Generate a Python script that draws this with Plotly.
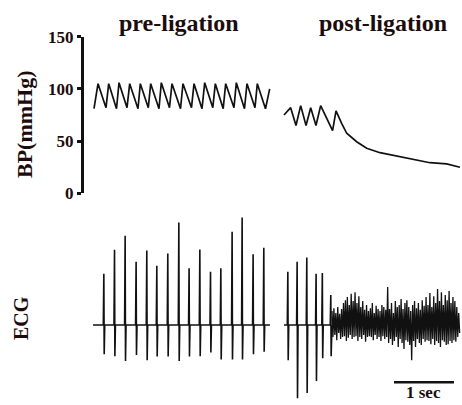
import plotly.graph_objects as go

# ---------------- Blood pressure (mmHg) vs time (s) ----------------
bp_pre_t = [0.000, 0.067, 0.200, 0.245, 0.375, 0.417, 0.550, 0.595, 0.733, 0.772,
            0.905, 0.945, 1.083, 1.122, 1.258, 1.300, 1.442, 1.483, 1.625, 1.667,
            1.800, 1.845, 1.980, 2.022, 2.153, 2.195, 2.333, 2.372, 2.508, 2.550,
            2.683, 2.722, 2.858, 2.928]
bp_pre = [81, 105, 82, 105, 81, 106, 82, 105, 81, 105,
          82, 105, 81, 106, 82, 105, 81, 105, 82, 105,
          81, 106, 82, 105, 81, 105, 82, 106, 81, 105,
          82, 105, 81, 100]

bp_post_t = [0.000, 0.111, 0.200, 0.278, 0.367, 0.445, 0.533, 0.611, 0.810, 0.867,
             0.961, 1.045, 1.211, 1.378, 1.600, 1.878, 2.155, 2.433, 2.711, 2.933]
bp_post = [75, 82, 65, 84, 65, 82, 65, 84, 60, 79,
           67, 57.5, 49.4, 43.1, 38.9, 35.7, 31.9, 29.3, 28.1, 24.9]

bp_ticks = [0, 50, 100, 150]

# ---------------- ECG (mV) ----------------
ecg_pre_span = [-0.017, 2.933]
ecg_pre_beat_t = [0.167, 0.345, 0.522, 0.705, 0.883, 1.050, 1.233, 1.417,
                  1.588, 1.767, 1.945, 2.117, 2.305, 2.472, 2.655, 2.833]
ecg_pre_r = [1.28, 1.88, 2.23, 1.58, 1.86, 1.48, 1.79, 2.56,
             1.42, 1.89, 1.33, 1.42, 2.33, 2.69, 1.77, 1.93]
ecg_pre_s = [-0.73, -0.78, -0.90, -0.75, -0.88, -0.79, -0.79, -0.90,
             -0.79, -0.78, -0.69, -0.86, -0.86, -0.86, -0.73, -0.67]

ecg_post_span = [0.000, 0.800]
ecg_post_beat_t = [0.067, 0.222, 0.383, 0.538, 0.642, 0.783]
ecg_post_r = [1.33, 1.58, 1.69, 1.28, 1.30, 0.75]
ecg_post_s = [-0.88, -1.83, -1.70, -1.40, -0.83, -0.78]

# fibrillation segment after ligation (sampled every 16 ms from 0.80 s)
ecg_fib_t0 = 0.80
ecg_fib_dt = 0.016
ecg_fib = [0.35, -0.30, 0.42, -0.25, 0.30, -0.38, 0.45, -0.20, 0.28, -0.35,
           0.40, -0.30, 0.55, -0.28, 0.62, -0.40, 0.70, -0.32, 0.50, -0.25,
           0.78, -0.35, 0.60, -0.30, 0.82, -0.28, 0.55, -0.40, 0.72, -0.30,
           0.45, -0.35, 0.60, -0.25, 0.38, -0.42, 0.50, -0.30, 0.35, -0.28,
           0.42, -0.30, 0.55, -0.38, 0.30, -0.25, 0.48, -0.35, 0.40, -0.30,
           0.35, -0.40, 0.50, -0.28, 0.45, -0.35, 0.38, -0.30, 0.95, -0.45,
           0.40, -0.35, 0.55, -0.50, 0.30, -0.40, 0.60, -0.30, 0.45, -0.55,
           0.50, -0.35, 0.65, -0.45, 0.40, -0.60, 0.55, -0.38, 0.62, -0.42,
           0.45, -0.50, 0.35, -0.88, 0.50, -0.40, 0.60, -0.55, 0.42, -0.35,
           0.55, -0.45, 0.38, -0.50, 0.62, -0.35, 0.48, -0.42, 0.70, -0.38,
           0.50, -0.40, 0.80, -0.48, 0.45, -0.35, 0.72, -0.50, 0.55, -0.40,
           0.90, -0.45, 0.60, -0.55, 0.82, -0.38, 0.50, -0.42, 0.75, -0.50,
           0.62, -0.48, 0.85, -0.40, 0.55, -0.45, 0.70, -0.38, 0.60, -0.42,
           0.45, -0.30, 0.30, -0.20]

scale_bar_t = [1.833, 2.833]   # 1 second
scale_bar_level = -1.43

titles = ["pre-ligation", "post-ligation"]


def ecg_polyline(span, beats, r, s):
    xs, ys = [span[0]], [0.0]
    for t, a, b in zip(beats, r, s):
        xs += [t - 0.012, t - 0.003, t + 0.003, t + 0.012]
        ys += [0.0, a, b, 0.0]
    xs.append(span[1])
    ys.append(0.0)
    return xs, ys


W, H = 462, 405
LINE = "#111111"
TXT = "#1c0c0c"
SERIF = "Liberation Serif"

fig = go.Figure()

fig.add_trace(go.Scatter(x=bp_pre_t, y=bp_pre, mode="lines", xaxis="x", yaxis="y",
                         line=dict(color=LINE, width=1.7), hoverinfo="skip"))
fig.add_trace(go.Scatter(x=bp_post_t, y=bp_post, mode="lines", xaxis="x2", yaxis="y2",
                         line=dict(color=LINE, width=1.7), hoverinfo="skip"))

ex, ey = ecg_polyline(ecg_pre_span, ecg_pre_beat_t, ecg_pre_r, ecg_pre_s)
fig.add_trace(go.Scatter(x=ex, y=ey, mode="lines", xaxis="x", yaxis="y3",
                         line=dict(color=LINE, width=1.6), hoverinfo="skip"))
px_, py_ = ecg_polyline(ecg_post_span, ecg_post_beat_t, ecg_post_r, ecg_post_s)
fig.add_trace(go.Scatter(x=px_, y=py_, mode="lines", xaxis="x2", yaxis="y4",
                         line=dict(color=LINE, width=1.6), hoverinfo="skip"))
fig.add_trace(go.Scatter(y=ecg_fib, x0=ecg_fib_t0, dx=ecg_fib_dt, mode="lines",
                         xaxis="x2", yaxis="y4",
                         line=dict(color=LINE, width=1.3), hoverinfo="skip"))

# 1-second scale bar
fig.add_trace(go.Scatter(x=scale_bar_t, y=[scale_bar_level] * 2, mode="lines",
                         xaxis="x2", yaxis="y4",
                         line=dict(color=LINE, width=2.5), hoverinfo="skip"))

bp_dom = [1 - 193.3 / H, 1 - 36.7 / H]
ecg_dom = [0, 1 - 210 / H]
ecg_rng = [-2.0, 2.875]
pre_dom = [84 / W, 277 / W]
post_dom = [278 / W, 1.0]

fig.update_layout(
    template="none",
    width=W, height=H,
    margin=dict(l=0, r=0, t=0, b=0, pad=0),
    paper_bgcolor="white", plot_bgcolor="rgba(0,0,0,0)",
    showlegend=False,
    xaxis=dict(domain=pre_dom, range=[-0.1667, 3.05], visible=False, anchor="y"),
    xaxis2=dict(domain=post_dom, range=[-0.1, 2.967], visible=False, anchor="y2"),
    yaxis=dict(domain=bp_dom, range=[0, 150], anchor="x", automargin=False,
               tickvals=bp_ticks, ticktext=[str(v) for v in bp_ticks],
               showline=True, linecolor=LINE, linewidth=3,
               ticks="outside", ticklen=4, tickwidth=3, tickcolor=LINE,
               showgrid=False, zeroline=False,
               tickfont=dict(family=SERIF, size=17, color=TXT, weight="bold")),
    yaxis2=dict(domain=bp_dom, range=[0, 150], anchor="x2", visible=False),
    yaxis3=dict(domain=ecg_dom, range=ecg_rng, anchor="x", visible=False),
    yaxis4=dict(domain=ecg_dom, range=ecg_rng, anchor="x2", visible=False),
)

title_font = dict(family=SERIF, size=24, color=TXT, weight="bold")
fig.add_annotation(text=titles[0], x=178.5 / W, y=1 - 23 / H, xref="paper", yref="paper",
                   showarrow=False, font=title_font, xanchor="center", yanchor="middle")
fig.add_annotation(text=titles[1], x=382.5 / W, y=1 - 23 / H, xref="paper", yref="paper",
                   showarrow=False, font=title_font, xanchor="center", yanchor="middle")
fig.add_annotation(text="BP(mmHg)", x=24 / W, y=1 - 124 / H, xref="paper", yref="paper",
                   showarrow=False, textangle=-90,
                   font=dict(family=SERIF, size=22, color=TXT, weight="bold"),
                   xanchor="center", yanchor="middle")
fig.add_annotation(text="ECG", x=21 / W, y=1 - 318 / H, xref="paper", yref="paper",
                   showarrow=False, textangle=-90,
                   font=dict(family=SERIF, size=20, color=TXT, weight="bold"),
                   xanchor="center", yanchor="middle")
fig.add_annotation(text="1 sec", x=sum(scale_bar_t) / 2, y=scale_bar_level,
                   xref="x2", yref="y4", showarrow=False, yanchor="top", yshift=1,
                   font=dict(family=SERIF, size=17, color=TXT, weight="bold"))

fig.write_html("out.html",
               config={"displayModeBar": False, "staticPlot": True},
               post_script="document.body.style.margin='0';"
                           "document.body.style.overflow='hidden';")
